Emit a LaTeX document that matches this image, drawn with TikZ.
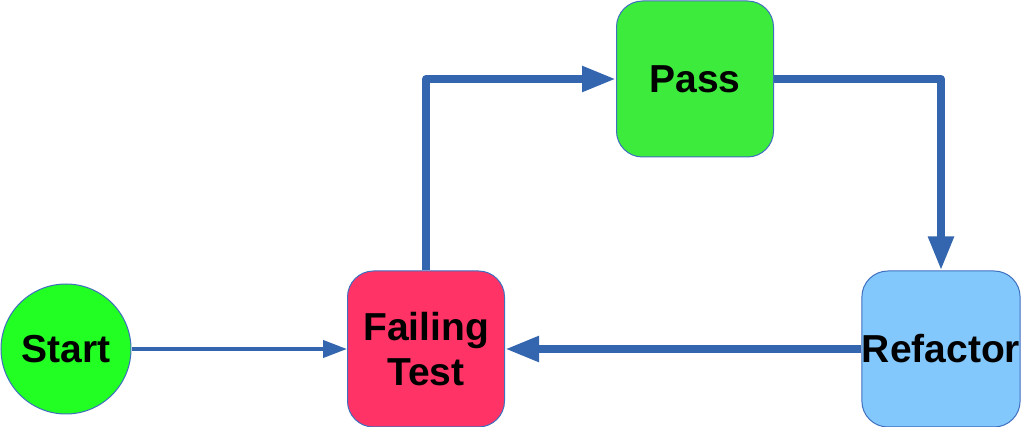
\documentclass[tikz,border=0pt]{standalone}
\usepackage{fontspec}
\setmainfont{Liberation Sans}
\usetikzlibrary{arrows.meta}
\definecolor{flowblue}{HTML}{3466AF}
\definecolor{edgeblue}{HTML}{3F6FBF}
\definecolor{startgreen}{HTML}{22FF22}
\definecolor{passgreen}{HTML}{3DEB3D}
\definecolor{failred}{HTML}{FF3366}
\definecolor{refblue}{HTML}{82C8FC}

\begin{document}
\begin{tikzpicture}[x=1pt, y=-1pt,
    every node/.style={font=\fontsize{39}{45}\selectfont\bfseries, draw=edgeblue, line width=1pt, inner sep=0pt},
    stepbox/.style={rounded corners=26pt, minimum width=157pt, minimum height=156pt, align=center},
    thinflow/.style={draw=flowblue, line width=4pt, -{Triangle[length=24pt,width=17pt]}},
    thickflow/.style={draw=flowblue, line width=8pt, line join=round, -{Triangle[length=34pt,width=24pt]}}]
      \useasboundingbox (0,0) rectangle (1023,427);
      % the four stages
      \node[circle, fill=startgreen, minimum size=130pt] (start) at (66,349) {Start};
      \node[stepbox, fill=failred] (fail) at (426,349) {Failing\\Test};
      \node[stepbox, fill=passgreen] (pass) at (695,79) {Pass};
      \node[stepbox, fill=refblue] (refactor) at (941,349) {Refactor};
      % the cycle
      \draw[thinflow] (start) -- (fail);
      \draw[thickflow] (fail.north) |- (pass.west);
      \draw[thickflow] (pass.east) -| (refactor.north);
      \draw[thickflow] (refactor.west) -- (fail.east);
    \end{tikzpicture}
\end{document}
